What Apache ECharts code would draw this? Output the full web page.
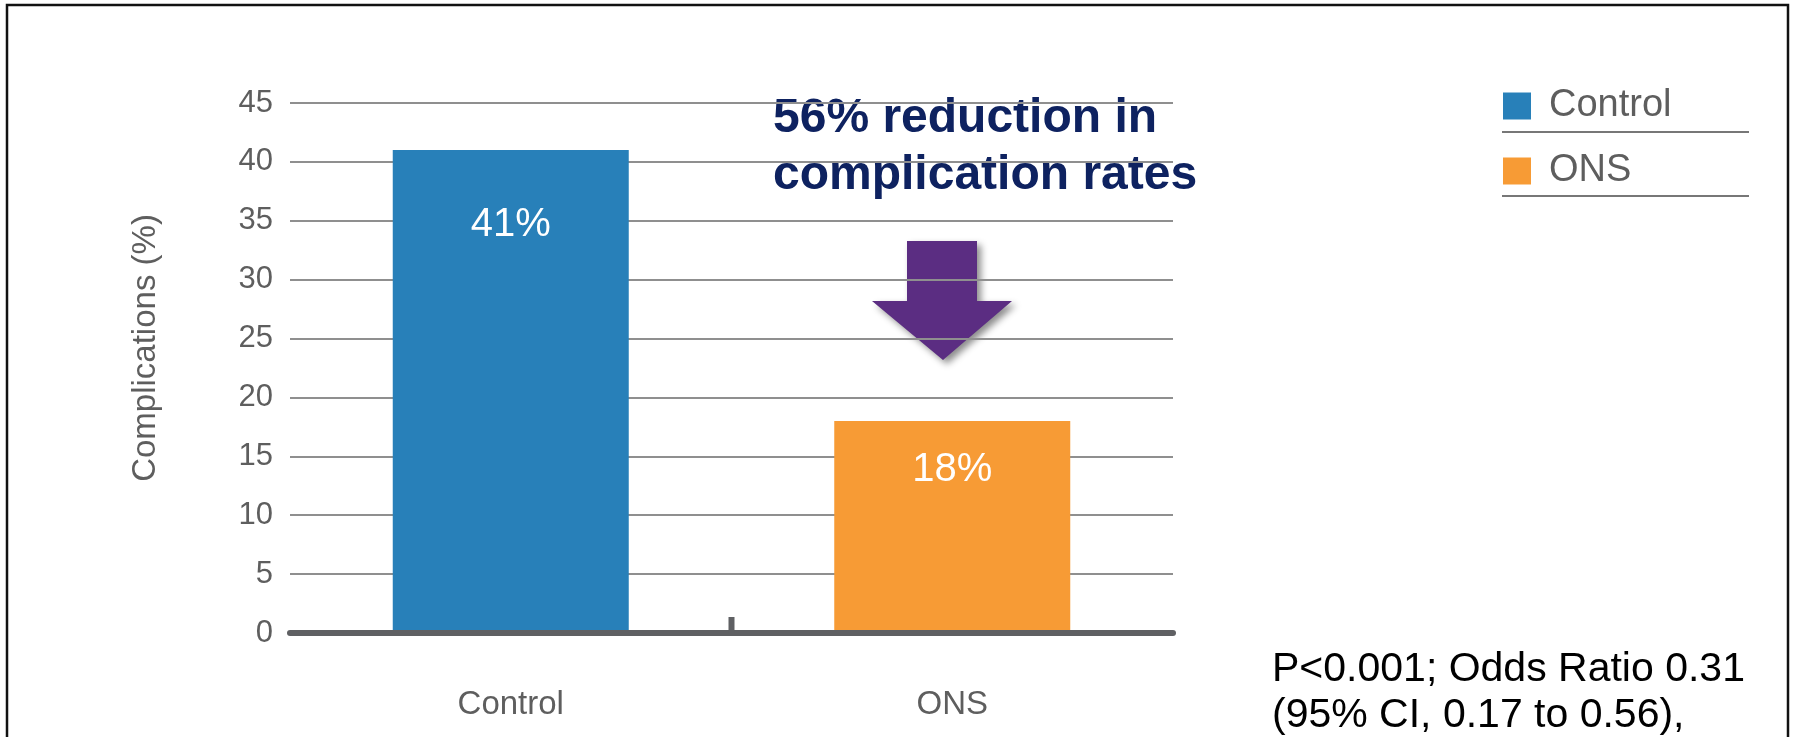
<!DOCTYPE html>
<html>
<head>
<meta charset="utf-8">
<script src="https://cdn.jsdelivr.net/npm/echarts@6/dist/echarts.min.js"></script>
<style>
  html, body { margin: 0; padding: 0; background: #ffffff; }
  #chart { width: 1794px; height: 737px; }
</style>
</head>
<body>
<div id="chart"></div>
<script>
// Complication rates by group
const categories = ['Control', 'ONS'];
const controlValues = [41, '-'];
const onsValues = ['-', 18];
const yMin = 0;
const yMax = 45;
const yStep = 5;
const yAxisTitle = 'Complications (%)';
const headline = ['56% reduction in', 'complication rates'];
const statsNote = ['P<0.001; Odds Ratio 0.31', '(95% CI, 0.17 to 0.56),'];

const FONT = '"Liberation Sans", Arial, Helvetica, sans-serif';
const BLUE = '#2880b9';
const ORANGE = '#f79b35';
const AXIS_DARK = '#5f6063';
const GRID_GREY = '#8f8f8f';
const TEXT_GREY = '#5e5e5e';

// per-bar value label placement inside the bar
function withLabel(values, distance) {
  return values.map(v => v === '-' ? v : { value: v, label: { distance: distance } });
}

const chart = echarts.init(document.getElementById('chart'), null, { renderer: 'canvas' });

const option = {
  backgroundColor: '#ffffff',
  animation: false,
  grid: { left: 290, right: 621, top: 103, bottom: 104, containLabel: false },
  legend: {
    data: categories,
    orient: 'vertical',
    left: 1498,
    top: 77,
    icon: 'rect',
    itemWidth: 28,
    itemHeight: 27,
    itemGap: 17,
    selectedMode: false,
    textStyle: {
      fontFamily: FONT,
      fontSize: 38,
      lineHeight: 38,
      color: TEXT_GREY,
      padding: [10, 0, 0, 13]
    }
  },
  xAxis: {
    type: 'category',
    data: categories,
    z: 4,
    boundaryGap: true,
    axisLine: { show: true, lineStyle: { color: AXIS_DARK, width: 6 } },
    axisTick: { show: false },
    axisLabel: {
      fontFamily: FONT,
      fontSize: 33,
      color: TEXT_GREY,
      margin: 55
    },
    splitLine: { show: false }
  },
  yAxis: {
    type: 'value',
    min: yMin,
    max: yMax,
    interval: yStep,
    z: 0,
    name: yAxisTitle,
    nameLocation: 'middle',
    nameGap: 128,
    nameTextStyle: {
      fontFamily: FONT,
      fontSize: 33,
      color: TEXT_GREY,
      padding: [0, 0, 0, 40]
    },
    axisLine: { show: false },
    axisTick: { show: false },
    axisLabel: {
      fontFamily: FONT,
      fontSize: 31,
      color: TEXT_GREY,
      margin: 17
    },
    splitLine: { show: true, lineStyle: { color: GRID_GREY, width: 2 } }
  },
  series: [
    {
      name: 'Control',
      type: 'bar',
      data: withLabel(controlValues, 55),
      barWidth: 236,
      barGap: '-100%',
      itemStyle: { color: BLUE },
      label: {
        show: true,
        position: 'insideTop',
        formatter: '{c}%',
        fontFamily: FONT,
        fontSize: 40,
        color: '#ffffff'
      }
    },
    {
      name: 'ONS',
      type: 'bar',
      data: withLabel(onsValues, 29),
      barWidth: 236,
      barGap: '-100%',
      itemStyle: { color: ORANGE },
      label: {
        show: true,
        position: 'insideTop',
        formatter: '{c}%',
        fontFamily: FONT,
        fontSize: 40,
        color: '#ffffff'
      }
    },
    {
      // divider tick between the two category bands, sitting on the baseline
      name: 'divider',
      type: 'custom',
      silent: true,
      z: 5,
      data: [[0, 0]],
      encode: { x: 0, y: 1 },
      renderItem: function (params, api) {
        const base = api.coord([api.value(0), api.value(1)]);
        const band = api.size([1, 0])[0];
        const x = base[0] + band / 2;
        return {
          type: 'rect',
          shape: { x: x - 3, y: base[1] - 16, width: 6, height: 16 },
          style: { fill: AXIS_DARK }
        };
      }
    }
  ],
  graphic: [
    // slide frame
    {
      type: 'rect',
      silent: true,
      shape: { x: 7, y: 5, width: 1781, height: 800 },
      style: { fill: 'none', stroke: '#111111', lineWidth: 2.5 }
    },
    // headline callout
    {
      type: 'text',
      left: 773,
      top: 90,
      style: {
        text: headline.join('\n'),
        fontFamily: FONT,
        fontWeight: 'bold',
        fontSize: 48,
        lineHeight: 57,
        fill: '#0e2260'
      }
    },
    // downward arrow
    {
      type: 'polygon',
      silent: true,
      shape: {
        points: [[907, 241], [977, 241], [977, 301], [1012, 301], [943, 360], [872, 301], [907, 301]]
      },
      style: {
        fill: '#5b2d82',
        shadowBlur: 7,
        shadowOffsetX: 4,
        shadowOffsetY: 4,
        shadowColor: 'rgba(0,0,0,0.45)'
      }
    },
    // legend separators
    {
      type: 'line',
      silent: true,
      shape: { x1: 1502, y1: 132, x2: 1749, y2: 132 },
      style: { stroke: '#777777', lineWidth: 2 }
    },
    {
      type: 'line',
      silent: true,
      shape: { x1: 1502, y1: 196, x2: 1749, y2: 196 },
      style: { stroke: '#777777', lineWidth: 2 }
    },
    // statistics note
    {
      type: 'text',
      left: 1272,
      top: 647,
      style: {
        text: statsNote.join('\n'),
        fontFamily: FONT,
        fontSize: 41,
        lineHeight: 46,
        fill: '#000000'
      }
    }
  ]
};

chart.setOption(option);
</script>
</body>
</html>
